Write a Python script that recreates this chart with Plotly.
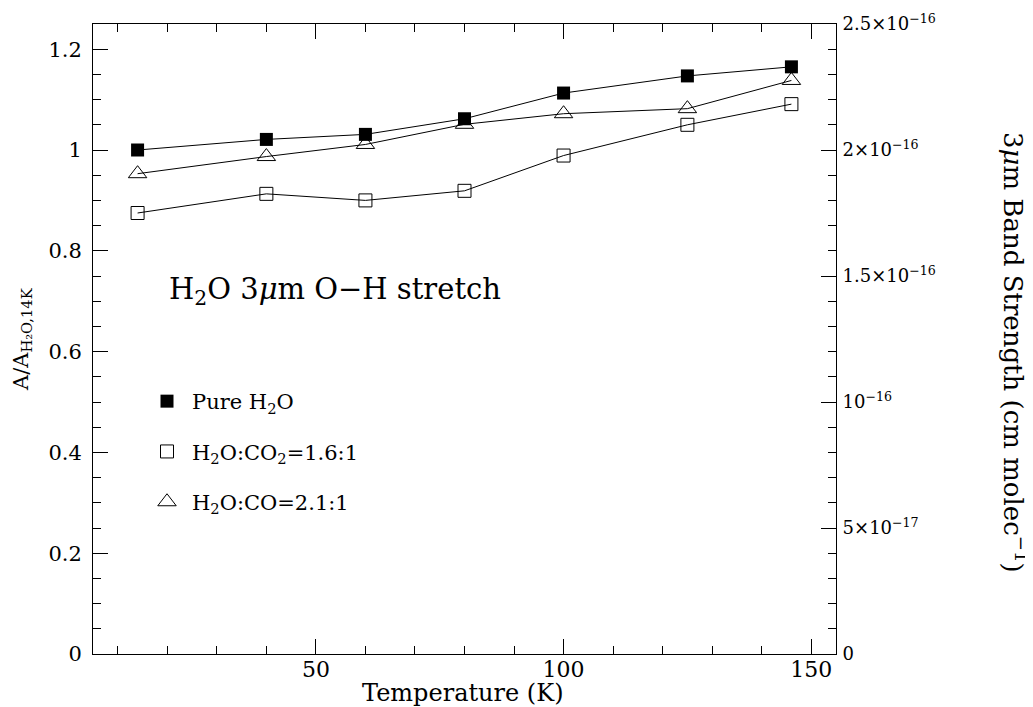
import plotly.graph_objects as go

# ---- data ----
temperature = [14, 40, 60, 80, 100, 125, 146]
pure_h2o = [1.000, 1.021, 1.031, 1.062, 1.113, 1.147, 1.165]
h2o_co2 = [0.875, 0.913, 0.900, 0.919, 0.989, 1.050, 1.091]
h2o_co = [0.953, 0.987, 1.011, 1.051, 1.072, 1.082, 1.138]

series_names = ["Pure H<sub>2</sub>O",
                "H<sub>2</sub>O:CO<sub>2</sub>=1.6:1",
                "H<sub>2</sub>O:CO=2.1:1"]

band_strength_at_unity = 2e-16  # right axis value corresponding to A/A = 1

left_tickvals = [0, 0.2, 0.4, 0.6, 0.8, 1.0, 1.2]
left_ticktext = ["0", "0.2", "0.4", "0.6", "0.8", "1", "1.2"]
right_tickvals = [0, 5e-17, 1e-16, 1.5e-16, 2e-16, 2.5e-16]
right_ticktext = ["0", "5×10<sup>−17</sup>", "10<sup>−16</sup>",
                  "1.5×10<sup>−16</sup>", "2×10<sup>−16</sup>", "2.5×10<sup>−16</sup>"]
x_tickvals = [50, 100, 150]

FONT = "DejaVu Serif"
BLACK = "black"

# page body margin of the browser (figure is drawn offset by this)
OFF = 8
# plot area in screen pixels (for placing paper-referenced text)
L, R, T, B = 93, 836, 24, 654
PW, PH = R - L, B - T
W, H = 1033 - OFF, 707 - OFF


def px(x):
    return (x - L) / PW


def py(y):
    return (B - y) / PH


fig = go.Figure()

styles = [
    dict(symbol="square", size=13, color=BLACK, line=dict(width=0, color=BLACK)),
    dict(symbol="square-open", size=13, color=BLACK, line=dict(width=1, color=BLACK)),
    dict(symbol="triangle-up-open", size=16, color=BLACK, line=dict(width=1, color=BLACK)),
]
all_series = [pure_h2o, h2o_co2, h2o_co]

for name, vals, st in zip(series_names, all_series, styles):
    fig.add_trace(go.Scatter(
        x=temperature, y=vals, mode="lines+markers",
        line=dict(color=BLACK, width=1),
        marker=st, showlegend=False, hoverinfo="x+y"))

# legend-only entries (markers only)
for i, (name, st) in enumerate(zip(series_names, styles)):
    fig.add_trace(go.Scatter(
        x=[None], y=[None], mode="markers", name=name,
        marker=st, legendgroup=f"g{i}", showlegend=True))

# invisible trace on the right axis so it is drawn
fig.add_trace(go.Scatter(
    x=temperature, y=[v * band_strength_at_unity for v in pure_h2o],
    yaxis="y2", mode="markers", marker=dict(opacity=0),
    showlegend=False, hoverinfo="skip"))

fig.update_layout(
    width=W, height=H,
    paper_bgcolor="white", plot_bgcolor="white",
    margin=dict(l=L - OFF, r=1033 - R, t=T - OFF, b=707 - B, autoexpand=False),
    font=dict(family=FONT, size=21, color=BLACK),
    xaxis=dict(
        range=[5, 155], tickmode="array", tickvals=x_tickvals,
        ticks="inside", ticklen=15, tickwidth=1, tickcolor=BLACK,
        showline=True, linecolor=BLACK, linewidth=1, mirror="ticks",
        showgrid=False, zeroline=False, automargin=False,
        minor=dict(dtick=10, tick0=0, ticks="inside", ticklen=8, tickcolor=BLACK, showgrid=False),
        tickfont=dict(size=22), ticklabelstandoff=-4,
    ),
    yaxis=dict(
        range=[0, 1.25], tickmode="array", tickvals=left_tickvals, ticktext=left_ticktext,
        ticks="inside", ticklen=15, tickwidth=1, tickcolor=BLACK,
        showline=True, linecolor=BLACK, linewidth=1,
        showgrid=False, zeroline=False, automargin=False,
        minor=dict(dtick=0.05, tick0=0, ticks="inside", ticklen=8, tickcolor=BLACK, showgrid=False),
        tickfont=dict(size=21), ticklabelstandoff=6,
    ),
    yaxis2=dict(
        range=[0, 1.25 * band_strength_at_unity], overlaying="y", side="right",
        tickmode="array", tickvals=right_tickvals, ticktext=right_ticktext,
        ticks="inside", ticklen=15, tickwidth=1, tickcolor=BLACK,
        showline=True, linecolor=BLACK, linewidth=1,
        showgrid=False, zeroline=False, automargin=False,
        minor=dict(tickmode="linear", dtick=1e-17, tick0=0, ticks="inside", ticklen=8,
                   tickcolor=BLACK, showgrid=False),
        tickfont=dict(size=18), ticklabelstandoff=2,
    ),
    legend=dict(
        x=px(142), y=py(381), xanchor="left", yanchor="top",
        bgcolor="rgba(0,0,0,0)", borderwidth=0,
        font=dict(family=FONT, size=21),
        traceorder="grouped", tracegroupgap=20, itemwidth=40,
    ),
    annotations=[
        dict(text="H<sub>2</sub>O 3<i>μ</i>m O−H stretch", xref="paper", yref="paper",
             x=px(167), y=py(291), xanchor="left", yanchor="middle",
             showarrow=False, font=dict(size=29)),
        dict(text="A/A<sub>H₂O,14K</sub>", xref="paper", yref="paper",
             x=px(22), y=py(339), xanchor="center", yanchor="middle",
             textangle=-90, showarrow=False, font=dict(size=21)),
        dict(text="Temperature (K)", xref="paper", yref="paper",
             x=px(463), y=py(693), xanchor="center", yanchor="middle",
             showarrow=False, font=dict(size=24)),
        dict(text="3<i>μ</i>m Band Strength (cm molec<sup>−1</sup>)", xref="paper", yref="paper",
             x=px(1015), y=py(352), xanchor="center", yanchor="middle",
             textangle=90, showarrow=False, font=dict(size=26)),
    ],
)

fig.write_html("out.html")
